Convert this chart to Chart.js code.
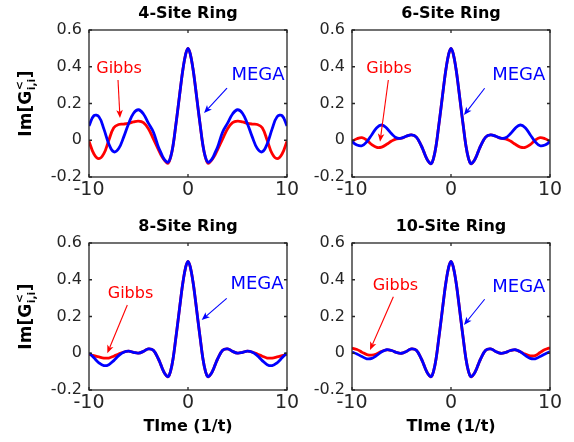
<!DOCTYPE html>
<html><head><meta charset="utf-8">
<script src="https://cdn.jsdelivr.net/npm/chart.js@4.4.1/dist/chart.umd.min.js"></script>
<style>
html,body{margin:0;padding:0;background:#fff;}
#wrap{position:relative;width:574px;height:442px;overflow:hidden;background:#fff;}
canvas{position:absolute;}
</style></head><body>
<div id="wrap">
<canvas id="c1" style="left:0px;top:0px;"></canvas>
<canvas id="c2" style="left:287px;top:0px;"></canvas>
<canvas id="c3" style="left:0px;top:213px;"></canvas>
<canvas id="c4" style="left:287px;top:213px;"></canvas>
</div>
<script>
// ---- data ----
const times = [-10,-9.5,-9,-8.5,-8,-7.5,-7,-6.5,-6,-5.5,-5,-4.5,-4,-3.5,-3,-2.75,-2.5,-2.25,-2,-1.75,-1.5,-1.25,-1,-0.75,-0.5,-0.25,0,0.25,0.5,0.75,1,1.25,1.5,1.75,2,2.25,2.5,2.75,3,3.5,4,4.5,5,5.5,6,6.5,7,7.5,8,8.5,9,9.5,10];

const mega4 = [0.078,0.134,0.128,0.062,-0.02,-0.063,-0.045,0.017,0.09,0.147,0.166,0.143,0.093,0.045,-0.035,-0.066,-0.095,-0.113,-0.12,-0.09,-0.025,0.075,0.18,0.29,0.39,0.465,0.5,0.465,0.39,0.29,0.18,0.075,-0.025,-0.09,-0.12,-0.113,-0.095,-0.066,-0.035,0.045,0.093,0.143,0.166,0.147,0.09,0.017,-0.045,-0.063,-0.02,0.062,0.128,0.134,0.078];
const gibbs4 = [-0.005,-0.075,-0.1,-0.073,0.0,0.068,0.086,0.088,0.092,0.1,0.104,0.096,0.063,0.008,-0.05,-0.078,-0.1,-0.117,-0.125,-0.092,-0.026,0.074,0.18,0.29,0.39,0.465,0.5,0.465,0.39,0.29,0.18,0.074,-0.026,-0.092,-0.125,-0.117,-0.1,-0.078,-0.05,0.008,0.063,0.096,0.104,0.1,0.092,0.088,0.086,0.068,0.0,-0.073,-0.1,-0.075,-0.005];

const mega6 = [-0.008,-0.026,-0.03,-0.008,0.03,0.068,0.083,0.066,0.035,0.013,0.012,0.022,0.029,0.017,-0.03,-0.062,-0.095,-0.118,-0.127,-0.095,-0.027,0.074,0.18,0.29,0.39,0.465,0.5,0.465,0.39,0.29,0.18,0.074,-0.027,-0.095,-0.127,-0.118,-0.095,-0.062,-0.03,0.017,0.029,0.022,0.012,0.013,0.035,0.066,0.083,0.068,0.03,-0.008,-0.03,-0.026,-0.008];
const gibbs6 = [-0.006,0.008,0.014,0.0,-0.024,-0.039,-0.037,-0.022,-0.004,0.008,0.011,0.022,0.029,0.017,-0.03,-0.062,-0.095,-0.118,-0.128,-0.096,-0.027,0.074,0.18,0.29,0.39,0.465,0.5,0.465,0.39,0.29,0.18,0.074,-0.027,-0.096,-0.128,-0.118,-0.095,-0.062,-0.03,0.017,0.029,0.022,0.011,0.008,-0.004,-0.022,-0.037,-0.039,-0.024,0.0,0.014,0.008,-0.006];

const mega8 = [0.002,-0.025,-0.052,-0.067,-0.062,-0.04,-0.013,0.006,0.012,0.005,0.001,0.01,0.024,0.016,-0.03,-0.062,-0.095,-0.118,-0.127,-0.095,-0.027,0.074,0.18,0.29,0.39,0.465,0.5,0.465,0.39,0.29,0.18,0.074,-0.027,-0.095,-0.127,-0.118,-0.095,-0.062,-0.03,0.016,0.024,0.01,0.001,0.005,0.012,0.006,-0.013,-0.04,-0.062,-0.067,-0.052,-0.025,0.002];
const gibbs8 = [-0.006,-0.013,-0.02,-0.026,-0.026,-0.016,-0.004,0.006,0.012,0.005,0.001,0.01,0.024,0.016,-0.03,-0.062,-0.095,-0.118,-0.128,-0.096,-0.027,0.074,0.18,0.29,0.39,0.465,0.5,0.465,0.39,0.29,0.18,0.074,-0.027,-0.096,-0.128,-0.118,-0.095,-0.062,-0.03,0.016,0.024,0.01,0.001,0.005,0.012,0.006,-0.004,-0.016,-0.026,-0.026,-0.02,-0.013,-0.006];

const mega10 = [0.006,-0.004,-0.018,-0.03,-0.028,-0.012,0.008,0.019,0.015,0.004,0.0,0.01,0.024,0.016,-0.03,-0.062,-0.095,-0.118,-0.127,-0.095,-0.027,0.074,0.18,0.29,0.39,0.465,0.5,0.465,0.39,0.29,0.18,0.074,-0.027,-0.095,-0.127,-0.118,-0.095,-0.062,-0.03,0.016,0.024,0.01,0.0,0.004,0.015,0.019,0.008,-0.012,-0.028,-0.03,-0.018,-0.004,0.008];
const gibbs10 = [0.028,0.02,0.006,-0.007,-0.01,-0.003,0.01,0.018,0.015,0.004,0.0,0.01,0.024,0.016,-0.03,-0.062,-0.095,-0.118,-0.128,-0.096,-0.027,0.074,0.18,0.29,0.39,0.465,0.5,0.465,0.39,0.29,0.18,0.074,-0.027,-0.096,-0.128,-0.118,-0.095,-0.062,-0.03,0.016,0.024,0.01,0.0,0.004,0.015,0.018,0.008,-0.005,-0.014,-0.013,0.004,0.02,0.03];

const panelTitles = ['4-Site Ring','6-Site Ring','8-Site Ring','10-Site Ring'];
const seriesNames = ['MEGA','Gibbs'];
const xTickValues = [-10,0,10];
const xTickLabels = ['-10','0','10'];
const yTickValues = [-0.2,0,0.2,0.4,0.6];
const yTickLabels = ['-0.2','0','0.2','0.4','0.6'];
const xAxisTitle = 'TIme (1/t)';
const yLabelParts = ['Im[G','<','i,i',']'];

// ---- styling / layout ----
const FONT = "'DejaVu Sans', sans-serif";
const BLUE = '#0000ff', RED = '#ff0000', AXIS = '#262626';

// annotation placements (data coordinates of each panel)
const annotations = [
  {g:{tx:-6.97,ty:0.388,x1:-7.07,y1:0.328,x2:-6.87,y2:0.121}, m:{tx:7.07,ty:0.355,x1:3.94,y1:0.284,x2:1.62,y2:0.148}},
  {g:{tx:-6.26,ty:0.388,x1:-6.33,y1:0.328,x2:-7.17,y2:-0.008}, m:{tx:6.84,ty:0.352,x1:3.40,y1:0.283,x2:1.31,y2:0.137}},
  {g:{tx:-5.81,ty:0.322,x1:-6.13,y1:0.263,x2:-8.15,y2:0.0}, m:{tx:6.97,ty:0.377,x1:3.91,y1:0.299,x2:1.38,y2:0.181}},
  {g:{tx:-5.61,ty:0.366,x1:-5.82,y1:0.308,x2:-8.18,y2:0.018}, m:{tx:6.85,ty:0.358,x1:3.40,y1:0.294,x2:1.31,y2:0.154}}
];

function drawArrow(ctx,x1,y1,x2,y2,color){
  const ang=Math.atan2(y2-y1,x2-x1), c=Math.cos(ang), s=Math.sin(ang);
  const L=8, W=3.3;
  const bx=x2-L*c, by=y2-L*s;
  ctx.save();
  ctx.strokeStyle=color; ctx.fillStyle=color; ctx.lineWidth=1.1;
  ctx.beginPath(); ctx.moveTo(x1,y1); ctx.lineTo(bx+2*c,by+2*s); ctx.stroke();
  ctx.beginPath(); ctx.moveTo(x2,y2);
  ctx.lineTo(bx-W*s,by+W*c);
  ctx.lineTo(x2-(L-2)*c,y2-(L-2)*s);
  ctx.lineTo(bx+W*s,by-W*c);
  ctx.closePath(); ctx.fill();
  ctx.restore();
}

const framePlugin = {
  id:'frame',
  afterDatasetsDraw(chart, args, opts){
    const {ctx, chartArea:a, scales:{x,y}} = chart;
    ctx.save();
    const an = opts.ann;
    if (an){
      const px=v=>x.getPixelForValue(v), py=v=>y.getPixelForValue(v);
      drawArrow(ctx,px(an.g.x1),py(an.g.y1),px(an.g.x2),py(an.g.y2),RED);
      drawArrow(ctx,px(an.m.x1),py(an.m.y1),px(an.m.x2),py(an.m.y2),BLUE);
      ctx.textAlign='center'; ctx.textBaseline='middle';
      ctx.fillStyle=RED; ctx.font='16px '+FONT;
      ctx.fillText(seriesNames[1],px(an.g.tx),py(an.g.ty));
      ctx.fillStyle=BLUE; ctx.font='18px '+FONT;
      ctx.fillText(seriesNames[0],px(an.m.tx),py(an.m.ty));
    }
    ctx.strokeStyle=AXIS; ctx.lineWidth=1.3;
    ctx.strokeRect(a.left,a.top,a.right-a.left,a.bottom-a.top);
    const tl=3;
    ctx.beginPath();
    xTickValues.forEach(v=>{const p=x.getPixelForValue(v); ctx.moveTo(p,a.bottom); ctx.lineTo(p,a.bottom-tl); ctx.moveTo(p,a.top); ctx.lineTo(p,a.top+tl);});
    yTickValues.forEach(v=>{const p=y.getPixelForValue(v); ctx.moveTo(a.left,p); ctx.lineTo(a.left+tl,p); ctx.moveTo(a.right,p); ctx.lineTo(a.right-tl,p);});
    ctx.stroke();
    if (opts.yLabel){
      const cy=(a.top+a.bottom)/2, cx=25;
      ctx.translate(cx,cy); ctx.rotate(-Math.PI/2);
      ctx.fillStyle='#000'; ctx.textAlign='left'; ctx.textBaseline='alphabetic';
      const big='bold 17px '+FONT, small='bold 11px '+FONT;
      ctx.font=big; const w1=ctx.measureText(yLabelParts[0]).width, w4=ctx.measureText(yLabelParts[3]).width;
      ctx.font=small; const w2=ctx.measureText(yLabelParts[1]).width, w3=ctx.measureText(yLabelParts[2]).width;
      const wm=Math.max(w2,w3)+1;
      const total=w1+wm+w4; const x0=-total/2; const base=6;
      ctx.font=big; ctx.fillText(yLabelParts[0],x0,base);
      ctx.font=small; ctx.fillText(yLabelParts[1],x0+w1+0.5,base-8); ctx.fillText(yLabelParts[2],x0+w1+0.5,base+4);
      ctx.font=big; ctx.fillText(yLabelParts[3],x0+w1+wm,base);
    }
    ctx.restore();
  }
};

function makePanel(id, idx, mega, gibbs, cfg){
  const cv=document.getElementById(id);
  cv.width=cfg.w; cv.height=cfg.h; cv.style.width=cfg.w+'px'; cv.style.height=cfg.h+'px';
  return new Chart(cv, {
    type:'line',
    data:{
      labels: times,
      datasets:[
        {label:seriesNames[0], data: times.map((t,i)=>({x:t,y:mega[i]})), borderColor:BLUE, borderWidth:2.8, pointRadius:0, tension:0.4, fill:false},
        {label:seriesNames[1], data: times.map((t,i)=>({x:t,y:gibbs[i]})), borderColor:RED, borderWidth:2.8, pointRadius:0, tension:0.4, fill:false}
      ]
    },
    options:{
      responsive:false, animation:false, devicePixelRatio:1,
      layout:{padding:{left:0,right:cfg.padR,top:0,bottom:0}},
      plugins:{
        legend:{display:false}, tooltip:{enabled:false},
        title:{display:true, fullSize:false, text:panelTitles[idx], color:'#000', font:{family:FONT,size:16,weight:'bold'}, padding:{top:4.4,bottom:6.4}},
        frame:{ann:annotations[idx], yLabel:cfg.yLabel}
      },
      scales:{
        x:{type:'linear', min:-10, max:10,
          afterBuildTicks:s=>{s.ticks=xTickValues.map(v=>({value:v}));},
          afterFit:s=>{s.height=cfg.xh;},
          ticks:{callback:(v,i)=>xTickLabels[i], color:AXIS, font:{family:FONT,size:19}, padding:2, maxRotation:0, autoSkip:false},
          grid:{display:false, drawTicks:false, tickLength:0}, border:{display:false},
          title:{display:cfg.xTitle, text:xAxisTitle, color:'#000', font:{family:FONT,size:16,weight:'bold'}, padding:{top:0,bottom:5.4}}
        },
        y:{type:'linear', min:-0.2, max:0.6,
          afterBuildTicks:s=>{s.ticks=yTickValues.map(v=>({value:v}));},
          afterFit:s=>{s.width=cfg.yw;},
          ticks:{callback:(v,i)=>yTickLabels[i], color:AXIS, font:{family:FONT,size:16}, padding:7, autoSkip:false},
          grid:{display:false, drawTicks:false, tickLength:0}, border:{display:false}
        }
      }
    },
    plugins:[framePlugin]
  });
}

makePanel('c1',0,mega4,gibbs4,{w:310,h:210,padR:23,yw:89,xh:33,yLabel:true,xTitle:false});
makePanel('c2',1,mega6,gibbs6,{w:287,h:210,padR:24,yw:65,xh:33,yLabel:false,xTitle:false});
makePanel('c3',2,mega8,gibbs8,{w:310,h:229,padR:23,yw:89,xh:52,yLabel:true,xTitle:true});
makePanel('c4',3,mega10,gibbs10,{w:287,h:229,padR:24,yw:65,xh:52,yLabel:false,xTitle:true});
</script>
</body></html>
